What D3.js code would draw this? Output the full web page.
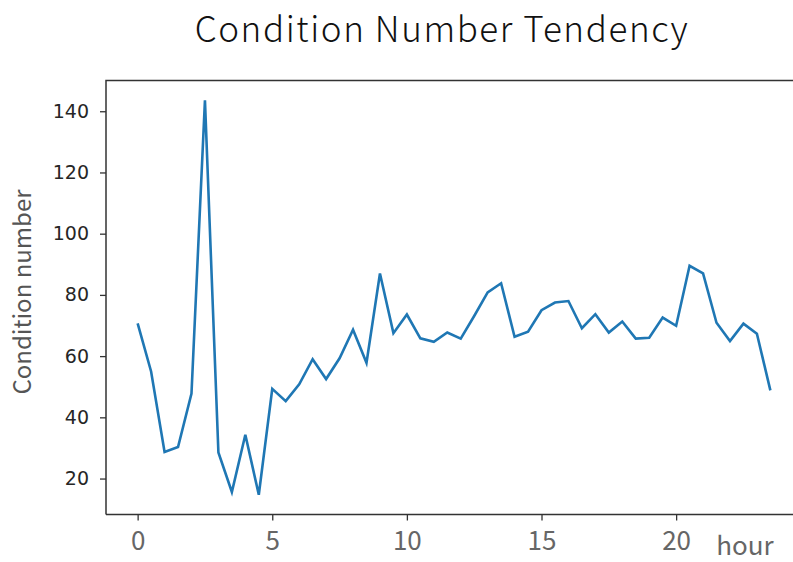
<!DOCTYPE html>
<html>
<head>
<meta charset="utf-8">
<script src="https://cdn.jsdelivr.net/npm/d3@7"></script>
<style>
  html, body { margin: 0; padding: 0; background: #fff; }
  svg { display: block; }
</style>
</head>
<body>
<svg id="chart" width="793" height="562"></svg>
<script>
// Half-hourly condition number over a day
const hours = [
  0, 0.5, 1, 1.5, 2, 2.5, 3, 3.5, 4, 4.5, 5, 5.5, 6, 6.5, 7, 7.5,
  8, 8.5, 9, 9.5, 10, 10.5, 11, 11.5, 12, 12.5, 13, 13.5, 14, 14.5, 15, 15.5,
  16, 16.5, 17, 17.5, 18, 18.5, 19, 19.5, 20, 20.5, 21, 21.5, 22, 22.5, 23, 23.5
];
const conditionNumber = [
  70.7, 55.0, 28.7, 30.3, 47.8, 143.6, 28.5, 15.6, 34.3, 14.7, 49.3, 45.3, 50.8, 59.0, 52.5, 59.3,
  68.6, 57.8, 87.0, 67.5, 73.6, 65.8, 64.7, 67.7, 65.7, 73.1, 80.8, 83.8, 66.3, 68.0, 75.0, 77.5,
  78.0, 69.1, 73.7, 67.7, 71.3, 65.7, 66.0, 72.6, 69.9, 89.5, 87.0, 70.9, 64.9, 70.6, 67.3, 48.8
];
const xTicks = [0, 5, 10, 15, 20];
const yTicks = [20, 40, 60, 80, 100, 120, 140];
const titleText = "Condition Number Tendency";
const yLabelText = "Condition number";
const xLabelText = "hour";

const svg = d3.select("#chart");
const plot = { left: 106, top: 80.5, right: 802, bottom: 514.5 };

// matplotlib-style 5% margins around the data
function padded(ext) {
  const m = (ext[1] - ext[0]) * 0.05;
  return [ext[0] - m, ext[1] + m];
}
const x = d3.scaleLinear().domain(padded(d3.extent(hours))).range([plot.left, plot.right]);
const y = d3.scaleLinear().domain(padded(d3.extent(conditionNumber))).range([plot.bottom, plot.top]);

const labelFont = "'Noto Sans CJK SC', 'Noto Sans', sans-serif";

// Spines (left, top, bottom)
const spine = svg.append("g").attr("stroke", "#333").attr("stroke-width", 1.5).attr("fill", "none");
spine.append("path").attr("d", `M${plot.left},${plot.bottom}V${plot.top}H${plot.right}`);
spine.append("path").attr("d", `M${plot.left},${plot.bottom}H${plot.right}`);

// Y axis
const yAxis = svg.append("g")
  .attr("transform", `translate(${plot.left},0)`)
  .call(d3.axisLeft(y).tickValues(yTicks).tickSize(6).tickPadding(11).tickFormat(d3.format("d")));
yAxis.select(".domain").remove();
yAxis.selectAll(".tick line").attr("stroke", "#333").attr("stroke-width", 1.3);
yAxis.selectAll(".tick text")
  .attr("font-family", "'DejaVu Sans', sans-serif")
  .attr("font-size", 19)
  .attr("fill", "#262626");

// X axis
const xAxis = svg.append("g")
  .attr("transform", `translate(0,${plot.bottom})`)
  .call(d3.axisBottom(x).tickValues(xTicks).tickSize(6).tickPadding(11).tickFormat(d3.format("d")));
xAxis.select(".domain").remove();
xAxis.selectAll(".tick line").attr("stroke", "#333").attr("stroke-width", 1.3);
xAxis.selectAll(".tick text")
  .attr("font-family", labelFont)
  .attr("font-size", 26)
  .attr("fill", "#666");

// Series line
const line = d3.line()
  .x((d, i) => x(hours[i]))
  .y(d => y(d));
svg.append("path")
  .datum(conditionNumber)
  .attr("fill", "none")
  .attr("stroke", "#1f77b4")
  .attr("stroke-width", 2.6)
  .attr("stroke-linejoin", "miter")
  .attr("d", line);

// Title
svg.append("text")
  .attr("x", 442)
  .attr("y", 42)
  .attr("text-anchor", "middle")
  .attr("font-family", labelFont)
  .attr("font-weight", 300)
  .attr("font-size", 35)
  .attr("letter-spacing", 1.6)
  .attr("fill", "#111")
  .text(titleText);

// Y axis label
svg.append("text")
  .attr("transform", "translate(31,292) rotate(-90)")
  .attr("text-anchor", "middle")
  .attr("font-family", labelFont)
  .attr("font-size", 24)
  .attr("fill", "#555")
  .text(yLabelText);

// X axis label
svg.append("text")
  .attr("x", 745)
  .attr("y", 555)
  .attr("text-anchor", "middle")
  .attr("font-family", labelFont)
  .attr("font-size", 26)
  .attr("fill", "#666")
  .text(xLabelText);
</script>
</body>
</html>
